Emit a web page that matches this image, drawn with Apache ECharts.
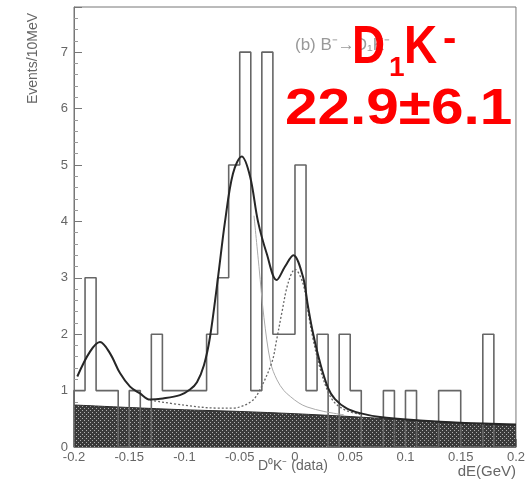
<!DOCTYPE html>
<html><head><meta charset="utf-8">
<script src="https://cdn.jsdelivr.net/npm/echarts@6/dist/echarts.min.js"></script>
<style>html,body{margin:0;padding:0;background:#fff}#c{width:528px;height:481px}</style>
</head><body><div id="c"></div>
<script>
// Histogram: events per 10 MeV bin, bins from -0.20 to 0.20 GeV
const binLowEdges = [-0.20,-0.19,-0.18,-0.17,-0.16,-0.15,-0.14,-0.13,-0.12,-0.11,
  -0.10,-0.09,-0.08,-0.07,-0.06,-0.05,-0.04,-0.03,-0.02,-0.01,
  0.00,0.01,0.02,0.03,0.04,0.05,0.06,0.07,0.08,0.09,
  0.10,0.11,0.12,0.13,0.14,0.15,0.16,0.17,0.18,0.19];
const counts = [1,3,1,1,0,1,0,2,1,1,
  1,1,2,3,5,7,1,7,2,2,
  5,1,2,0,2,1,0,0,1,0,
  1,0,0,1,1,0,0,2,0,0];
const histUpperEdge = 0.20;

// Total fit curve
const fitX = [-0.197,-0.1855,-0.1765,-0.1674,-0.1584,-0.1493,-0.1403,-0.1312,-0.1195,-0.1041,-0.095,-0.0887,-0.0824,-0.0769,-0.0697,-0.0633,-0.0561,-0.0482,-0.0407,-0.0335,-0.0256,-0.0166,-0.009,-0.0015,0.0072,0.0118,0.0163,0.0226,0.0299,0.0362,0.0471,0.0588,0.0769,0.1131,0.1493,0.2];
const fitY = [1.25,1.69,1.86,1.66,1.31,1.07,0.95,0.84,0.86,0.92,1.02,1.15,1.45,1.95,3.0,4.0,4.85,5.15,4.8,4.0,3.43,2.96,3.2,3.40,3.02,2.49,2.02,1.5,1.05,0.85,0.68,0.60,0.53,0.47,0.43,0.40];

// Dotted component (fit without the -0.05 peak)
const dotX = [-0.131,-0.1,-0.07,-0.055,-0.05,-0.04,-0.0335,-0.0211,-0.0166,-0.012,-0.0063,0.0,0.0072,0.0118,0.0163,0.0226,0.0299,0.0362,0.0471,0.0588];
const dotY = [0.83,0.74,0.69,0.69,0.71,0.80,0.95,1.49,1.90,2.37,2.9,3.15,2.9,2.4,1.92,1.4,0.98,0.78,0.64,0.58];

// Thin grey component (fit without the 0 peak)
const grayX = [-0.0371,-0.0326,-0.0281,-0.0221,-0.0163,-0.01,-0.0039,0.0036,0.0109,0.0262,0.0443];
const grayY = [4.1,3.2,2.3,1.5,1.19,1.0,0.89,0.78,0.71,0.63,0.57];

// Background (hatched)
const bkgX = [-0.2,-0.15,-0.1,-0.05,0.0,0.05,0.1,0.15,0.2];
const bkgY = [0.745,0.70,0.66,0.63,0.59,0.54,0.48,0.43,0.39];

const xTickLabels = ['-0.2','-0.15','-0.1','-0.05','0','0.05','0.1','0.15','0.2'];
const yTickLabels = ['0','1','2','3','4','5','6','7'];

function hatchPattern(){
  const c=document.createElement('canvas'); c.width=4; c.height=4;
  const g=c.getContext('2d');
  g.fillStyle='#3a3a3a'; g.fillRect(0,0,4,4);
  g.fillStyle='#b0b0b0'; g.fillRect(0,0,1,1); g.fillRect(2,2,1,1);
  return c;
}

const histData = [[binLowEdges[0],0]];
counts.forEach((c,i)=>histData.push([binLowEdges[i],c]));
histData.push([histUpperEdge,counts[counts.length-1]]);
histData.push([histUpperEdge,0]);

const zip=(a,b)=>a.map((v,i)=>[v,b[i]]);
const chart = echarts.init(document.getElementById('c'));
const FF = '"Liberation Sans", Arial, sans-serif';
const labelFont = {color:'#666', fontSize:13, fontFamily:FF};
chart.setOption({
  animation:false,
  grid:{left:74,right:12,top:7,bottom:34,show:true,borderColor:'#777',borderWidth:1},
  xAxis:{type:'value',min:-0.2,max:0.2,interval:0.05,
    axisLine:{onZero:false,lineStyle:{color:'#777'}},
    axisTick:{inside:true,length:8,lineStyle:{color:'#777'}},
    minorTick:{show:true,splitNumber:5,length:4,lineStyle:{color:'#999'}},
    splitLine:{show:false},
    axisLabel:Object.assign({margin:4,formatter:(v,i)=>xTickLabels[i]},labelFont)},
  yAxis:{type:'value',min:0,max:7.8,interval:1,
    axisLine:{onZero:false,lineStyle:{color:'#777'}},
    axisTick:{inside:true,length:8,lineStyle:{color:'#777'}},
    minorTick:{show:true,splitNumber:5,length:4,lineStyle:{color:'#999'}},
    splitLine:{show:false},
    axisLabel:Object.assign({margin:6,showMaxLabel:false,formatter:(v,i)=>yTickLabels[i]!==undefined?yTickLabels[i]:''},labelFont)},
  series:[
    {type:'line',data:zip(bkgX,bkgY),symbol:'none',smooth:0.3,z:1,
      lineStyle:{color:'#2a2a2a',width:1},
      areaStyle:{color:{image:hatchPattern(),repeat:'repeat'},opacity:1}},
    {type:'line',data:histData,step:'end',symbol:'none',z:2,
      lineStyle:{color:'#666',width:1.6}},
    {type:'line',data:zip(grayX,grayY),symbol:'none',smooth:0.35,z:3,
      lineStyle:{color:'#aaa',width:1}},
    {type:'line',data:zip(dotX,dotY),symbol:'none',smooth:0.35,z:3,
      lineStyle:{color:'#666',width:1.3,type:[2,2]}},
    {type:'line',data:zip(fitX,fitY),symbol:'none',smooth:0.35,z:4,
      lineStyle:{color:'#262626',width:2}}
  ],
  graphic:[
    {type:'text',x:33,y:13,rotation:Math.PI/2,z:10,
      style:{text:'Events/10MeV',fill:'#666',font:'14px '+FF,align:'right',verticalAlign:'middle'}},
    {type:'text',x:258,y:466,z:10,
      style:{text:'D⁰K⁻ (data)',fill:'#666',font:'14px '+FF,align:'left',verticalAlign:'middle'}},
    {type:'text',x:516,y:472,z:10,
      style:{text:'dE(GeV)',fill:'#666',font:'15px '+FF,align:'right',verticalAlign:'middle'}},
    {type:'text',x:295,y:45,z:10,
      style:{text:'(b) B⁻→D₁K⁻',fill:'#999',font:'17px '+FF,align:'left',verticalAlign:'middle'}},
    {type:'text',x:352,y:48,z:20,scaleX:0.85,
      style:{text:'D',fill:'#ff0000',font:'bold 54px '+FF,align:'left',verticalAlign:'middle'}},
    {type:'text',x:389,y:68,z:20,
      style:{text:'1',fill:'#ff0000',font:'bold 28px '+FF,align:'left',verticalAlign:'middle'}},
    {type:'text',x:404,y:48,z:20,scaleX:0.85,
      style:{text:'K',fill:'#ff0000',font:'bold 54px '+FF,align:'left',verticalAlign:'middle'}},
    {type:'text',x:443,y:40,z:20,
      style:{text:'-',fill:'#ff0000',font:'bold 40px '+FF,align:'left',verticalAlign:'middle'}},
    {type:'text',x:285,y:110,z:20,scaleX:1.17,
      style:{text:'22.9±6.1',fill:'#ff0000',font:'bold 50px '+FF,align:'left',verticalAlign:'middle'}}
  ]
});
</script></body></html>
